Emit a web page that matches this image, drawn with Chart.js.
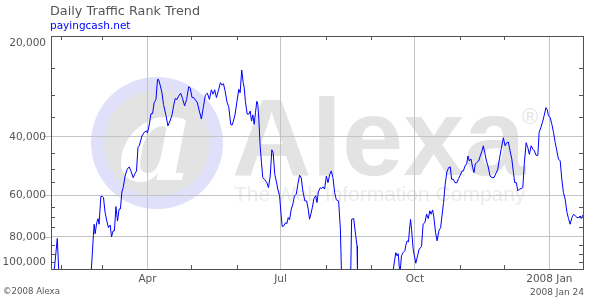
<!DOCTYPE html>
<html><head><meta charset="utf-8">
<script src="https://cdn.jsdelivr.net/npm/chart.js@4.4.1/dist/chart.umd.min.js"></script>
<style>html,body{margin:0;padding:0;background:#fff;}#wrap{width:610px;height:300px;}</style>
</head><body><div id="wrap"><canvas id="c" width="610" height="300"></canvas></div>
<script>
const chartTitle = 'Daily Traffic Rank Trend';
const siteName = 'payingcash.net';
const copyrightText = '\u00a92008 Alexa';
const dateStamp = '2008 Jan 24';
// days since 2007-01-25
const dayOffsets = [0,2.2,4.3,5.3,10,20,27.6,29.0,29.5,30.2,31.3,32.2,32.9,34.1,35.2,35.9,37.0,38.2,39.3,40.5,41.4,42.5,43.4,44.4,45.5,46.6,47.5,48.5,49.4,50.7,52.1,53.5,54.9,56.2,57.6,58.5,59.5,60.4,61.5,62.2,63.8,65.4,66.0,67.2,68.4,69.5,70.6,71.8,72.9,73.6,74.8,75.9,77.0,78.7,80.0,81.4,82.8,83.9,85.0,86.2,87.3,88.7,90.0,91.4,92.8,94.2,95.3,96.5,97.6,98.8,100.1,101.5,102.9,104.2,105.6,107.0,108.4,109.7,110.9,112.0,113.2,114.5,115.9,117.1,118.0,119.1,120.5,121.6,123.0,123.9,124.8,126.0,127.1,128.5,129.4,130.5,131.5,132.2,133.0,134.2,135.3,136.3,137.2,138.1,139.0,139.9,140.8,141.5,142.2,143.1,144.0,144.9,146.3,147.7,148.8,150.0,151.1,152.0,153.1,154.1,155.2,156.4,157.5,158.2,159.3,160.5,161.4,162.3,163.2,164.4,165.5,166.6,167.8,168.9,170.1,171.2,172.3,173.7,174.9,176.0,176.9,177.8,178.8,179.9,181.1,182.0,182.9,184.3,185.0,186.1,187.2,188.4,189.5,190.7,191.8,192.9,194.1,195.2,196.8,198.0,198.7,202,205.1,205.7,207.1,208.5,209.4,209.7,215,225,234.1,235.9,236.8,237.6,238.7,239.8,240.9,242.1,242.8,243.7,244.6,245.2,246.0,246.7,247.8,249.6,250.8,251.9,253.5,254.6,255.8,257.0,258.1,259.2,260.1,261.1,262.0,263.1,264.2,265.4,266.6,267.5,268.6,269.7,270.9,272.1,273.2,274.1,275.2,276.4,277.7,278.9,280.0,281.2,282.2,283.2,284.4,285.3,286.2,287.4,288.5,289.4,290.3,291.3,292.6,293.7,294.9,295.8,296.8,297.9,299.0,300.4,301.8,303.1,304.5,305.7,306.8,308.1,309.5,310.7,311.8,312.9,314.1,315.3,316.4,317.3,318.4,319.4,320.5,321.6,322.8,323.9,325.1,326.2,327.3,328.5,329.7,330.7,331.9,333.1,334.0,335.1,336.2,337.4,338.6,339.5,340.4,341.5,342.7,343.8,345.0,346.1,347.2,348.4,349.5,350.6,351.8,353.0,354.1,355.2,356.4,357.6,358.7,359.9,361.0,362.1,362.8,364.0];
const ranks = [130000,101000,81000,101000,130000,130000,100500,79500,73400,78400,72600,70600,73400,60600,60600,61000,67600,71800,75100,73800,80100,76800,76800,65000,71800,66100,66000,58700,57000,52600,50200,49400,51100,53200,51600,50800,43200,42700,41000,39900,38900,38500,39100,37000,34200,34200,31700,31000,27000,27000,28200,29600,32100,34700,37200,36000,34500,32400,30800,31000,30300,29700,30800,32400,31000,28400,28700,30600,30600,31100,31700,33600,35500,32800,30100,29700,31000,29000,29900,29000,30600,29200,27600,28100,27800,29200,31700,32600,36900,37000,36000,34300,31700,28900,29600,25300,27600,28600,31400,34300,34300,33600,36000,34500,36800,34000,31400,32100,35500,42700,47900,53200,54000,55100,57000,52600,43900,44800,52000,54400,57600,60300,69300,74600,74200,72600,73100,70100,71200,66100,63900,60300,59700,55700,52300,53200,58300,62500,62500,66100,70900,68500,65400,61500,60300,63200,58700,57000,57400,56700,57600,52600,55100,52000,50800,53200,59000,62000,62500,76000,101000,130000,101000,70900,70600,79500,85200,101000,130000,130000,101000,89300,91300,90000,104000,91300,89300,88200,84800,82300,82900,76800,71000,76000,87200,96100,91300,87200,85600,73400,72600,68500,70600,66900,68500,66500,70100,77700,82300,76800,75100,69300,63200,55700,51100,49600,49400,53800,53800,55100,55100,53500,52300,50800,50800,49100,48400,45800,47400,46800,49600,51400,48400,47900,47400,45800,44200,42700,44800,47400,49100,52600,53200,53200,51600,50200,46800,43500,40400,42700,41800,41600,44200,46800,51400,55100,55100,58300,57600,57400,57000,47900,41800,43200,45300,42700,43700,44200,45600,45600,38900,37700,36400,34700,32800,33200,34700,35100,36800,38900,41800,44200,46800,47400,53800,59000,61700,67600,70600,73400,70100,68500,69300,70100,70100,69300,70600,68800];
const rankTicks = [20000,40000,60000,80000,100000];
const rankTickLabels = ['20,000','40,000','60,000','80,000','100,000'];
const rankMinorTicks = [25000,30000,35000,45000,50000,55000,65000,70000,75000,85000,90000,95000];
const monthDays = [7,35,66,96,127,157,188,219,249,280,310,341];
const quarterDays = [66,157,249,341];
const quarterLabels = ['Apr','Jul','Oct','2008 Jan'];

const FONT = '"DejaVu Sans", Verdana, sans-serif';
const gridMajor = [40000,60000,80000];

const decor = {
  id:'decor',
  beforeDraw(chart){
    const ctx = chart.ctx;
    ctx.save();
    ctx.fillStyle = '#ffffff';
    ctx.fillRect(0,0,chart.width,chart.height);
    // watermark
    ctx.fillStyle = '#e0e0fa';
    ctx.beginPath(); ctx.arc(157,143,66,0,Math.PI*2); ctx.fill();
    ctx.fillStyle = '#e3e3e3';
    ctx.beginPath(); ctx.arc(157,143,53,0,Math.PI*2); ctx.fill();
    ctx.fillStyle = '#ffffff';
    ctx.font = 'italic bold 118px "DejaVu Serif"';
    ctx.textAlign = 'center'; ctx.textBaseline = 'alphabetic';
    ctx.fillText('a',156,180);
    ctx.fillStyle = '#e3e3e3';
    ctx.font = 'bold 110px "Liberation Sans"';
    ctx.textAlign = 'left';
    ctx.fillText('Alexa',232,175);
    ctx.textAlign = 'center'; ctx.textBaseline = 'middle';
    ctx.font = '22px "Liberation Sans"';
    ctx.fillText('\u00ae',530,118);
    ctx.fillStyle = '#ececec';
    ctx.textAlign = 'left'; ctx.textBaseline = 'alphabetic';
    ctx.font = '21px "Liberation Sans"';
    ctx.fillText('The Web Information Company',234,201);
    ctx.restore();
  },
  afterDraw(chart){
    const ctx = chart.ctx;
    const a = chart.chartArea;
    const xs = chart.scales.x, ys = chart.scales.y;
    ctx.save();
    ctx.lineWidth = 1;
    // minor y ticks (left and right, inward)
    ctx.strokeStyle = '#555555';
    ctx.beginPath();
    rankMinorTicks.forEach(v=>{
      const y = Math.round(ys.getPixelForValue(v)) + 0.5;
      ctx.moveTo(a.left, y); ctx.lineTo(a.left+4, y);
      ctx.moveTo(a.right, y); ctx.lineTo(a.right-4, y);
    });
    // minor x ticks (top and bottom, inward)
    monthDays.forEach(d=>{
      if (quarterDays.includes(d)) return;
      const x = Math.round(xs.getPixelForValue(d)) + 0.5;
      ctx.moveTo(x, a.top); ctx.lineTo(x, a.top+4);
      ctx.moveTo(x, a.bottom); ctx.lineTo(x, a.bottom-4);
    });
    ctx.stroke();
    // outside major ticks on the y axis
    ctx.strokeStyle = '#bdbdbd';
    ctx.beginPath();
    gridMajor.forEach(v=>{
      const y = Math.round(ys.getPixelForValue(v)) + 0.5;
      ctx.moveTo(a.left-8, y); ctx.lineTo(a.left, y);
    });
    ctx.stroke();
    // frame
    ctx.strokeStyle = '#505050';
    ctx.strokeRect(Math.round(a.left)+0.5, Math.round(a.top)+0.5, Math.round(a.right-a.left), Math.round(a.bottom-a.top));
    // y labels
    ctx.fillStyle = '#555555';
    ctx.font = '10.5px ' + FONT;
    ctx.textAlign = 'right'; ctx.textBaseline = 'middle';
    rankTicks.forEach((v,i)=>{
      let y = ys.getPixelForValue(v);
      y = Math.min(Math.max(y, a.top+6.5), a.bottom-7);
      ctx.fillText(rankTickLabels[i], 46, y+0.5);
    });
    // x labels
    ctx.textAlign = 'center'; ctx.textBaseline = 'middle';
    quarterDays.forEach((d,i)=>{
      ctx.fillText(quarterLabels[i], xs.getPixelForValue(d), 279.5);
    });
    // title and site
    ctx.textAlign = 'left'; ctx.textBaseline = 'alphabetic';
    ctx.font = '12.8px ' + FONT;
    ctx.fillStyle = '#555555';
    ctx.fillText(chartTitle, 50, 15);
    ctx.font = '10.5px ' + FONT;
    ctx.fillStyle = '#0000ff';
    ctx.fillText(siteName, 50, 28.5);
    // footer
    ctx.font = '8.6px ' + FONT;
    ctx.fillStyle = '#555555';
    ctx.textBaseline = 'middle';
    ctx.fillText(copyrightText, 3, 291.5);
    ctx.textAlign = 'right';
    ctx.font = '9px ' + FONT;
    ctx.fillText(dateStamp, 584, 292.5);
    ctx.restore();
  }
};

new Chart(document.getElementById('c').getContext('2d'), {
  type: 'line',
  data: {
    datasets: [{
      label: siteName,
      data: dayOffsets.map((d,i)=>({x:d, y:ranks[i]})),
      borderColor: '#0000ff',
      borderWidth: 1,
      pointRadius: 0,
      tension: 0,
      fill: false,
      clip: 0
    }]
  },
  options: {
    responsive: false,
    animation: false,
    devicePixelRatio: 1,
    layout: { padding: { left: 51, right: 27, top: 36, bottom: 31 } },
    plugins: { legend: { display: false }, tooltip: { enabled: false } },
    scales: {
      x: {
        type: 'linear', min: 0, max: 364,
        afterBuildTicks: s => { s.ticks = monthDays.map(v=>({value:v})); },
        ticks: { display: false },
        grid: { drawTicks: false, lineWidth: 1, color: c => (c.tick && quarterDays.includes(c.tick.value)) ? '#c4c4c4' : 'rgba(0,0,0,0)' },
        border: { display: false }
      },
      y: {
        type: 'logarithmic', reverse: true, min: 20000, max: 100000,
        afterBuildTicks: s => { s.ticks = rankTicks.concat(rankMinorTicks).map(v=>({value:v})); },
        ticks: { display: false },
        grid: { drawTicks: false, lineWidth: 1, color: c => (c.tick && gridMajor.includes(c.tick.value)) ? '#c4c4c4' : 'rgba(0,0,0,0)' },
        border: { display: false }
      }
    }
  },
  plugins: [decor]
});
</script>
</body></html>
